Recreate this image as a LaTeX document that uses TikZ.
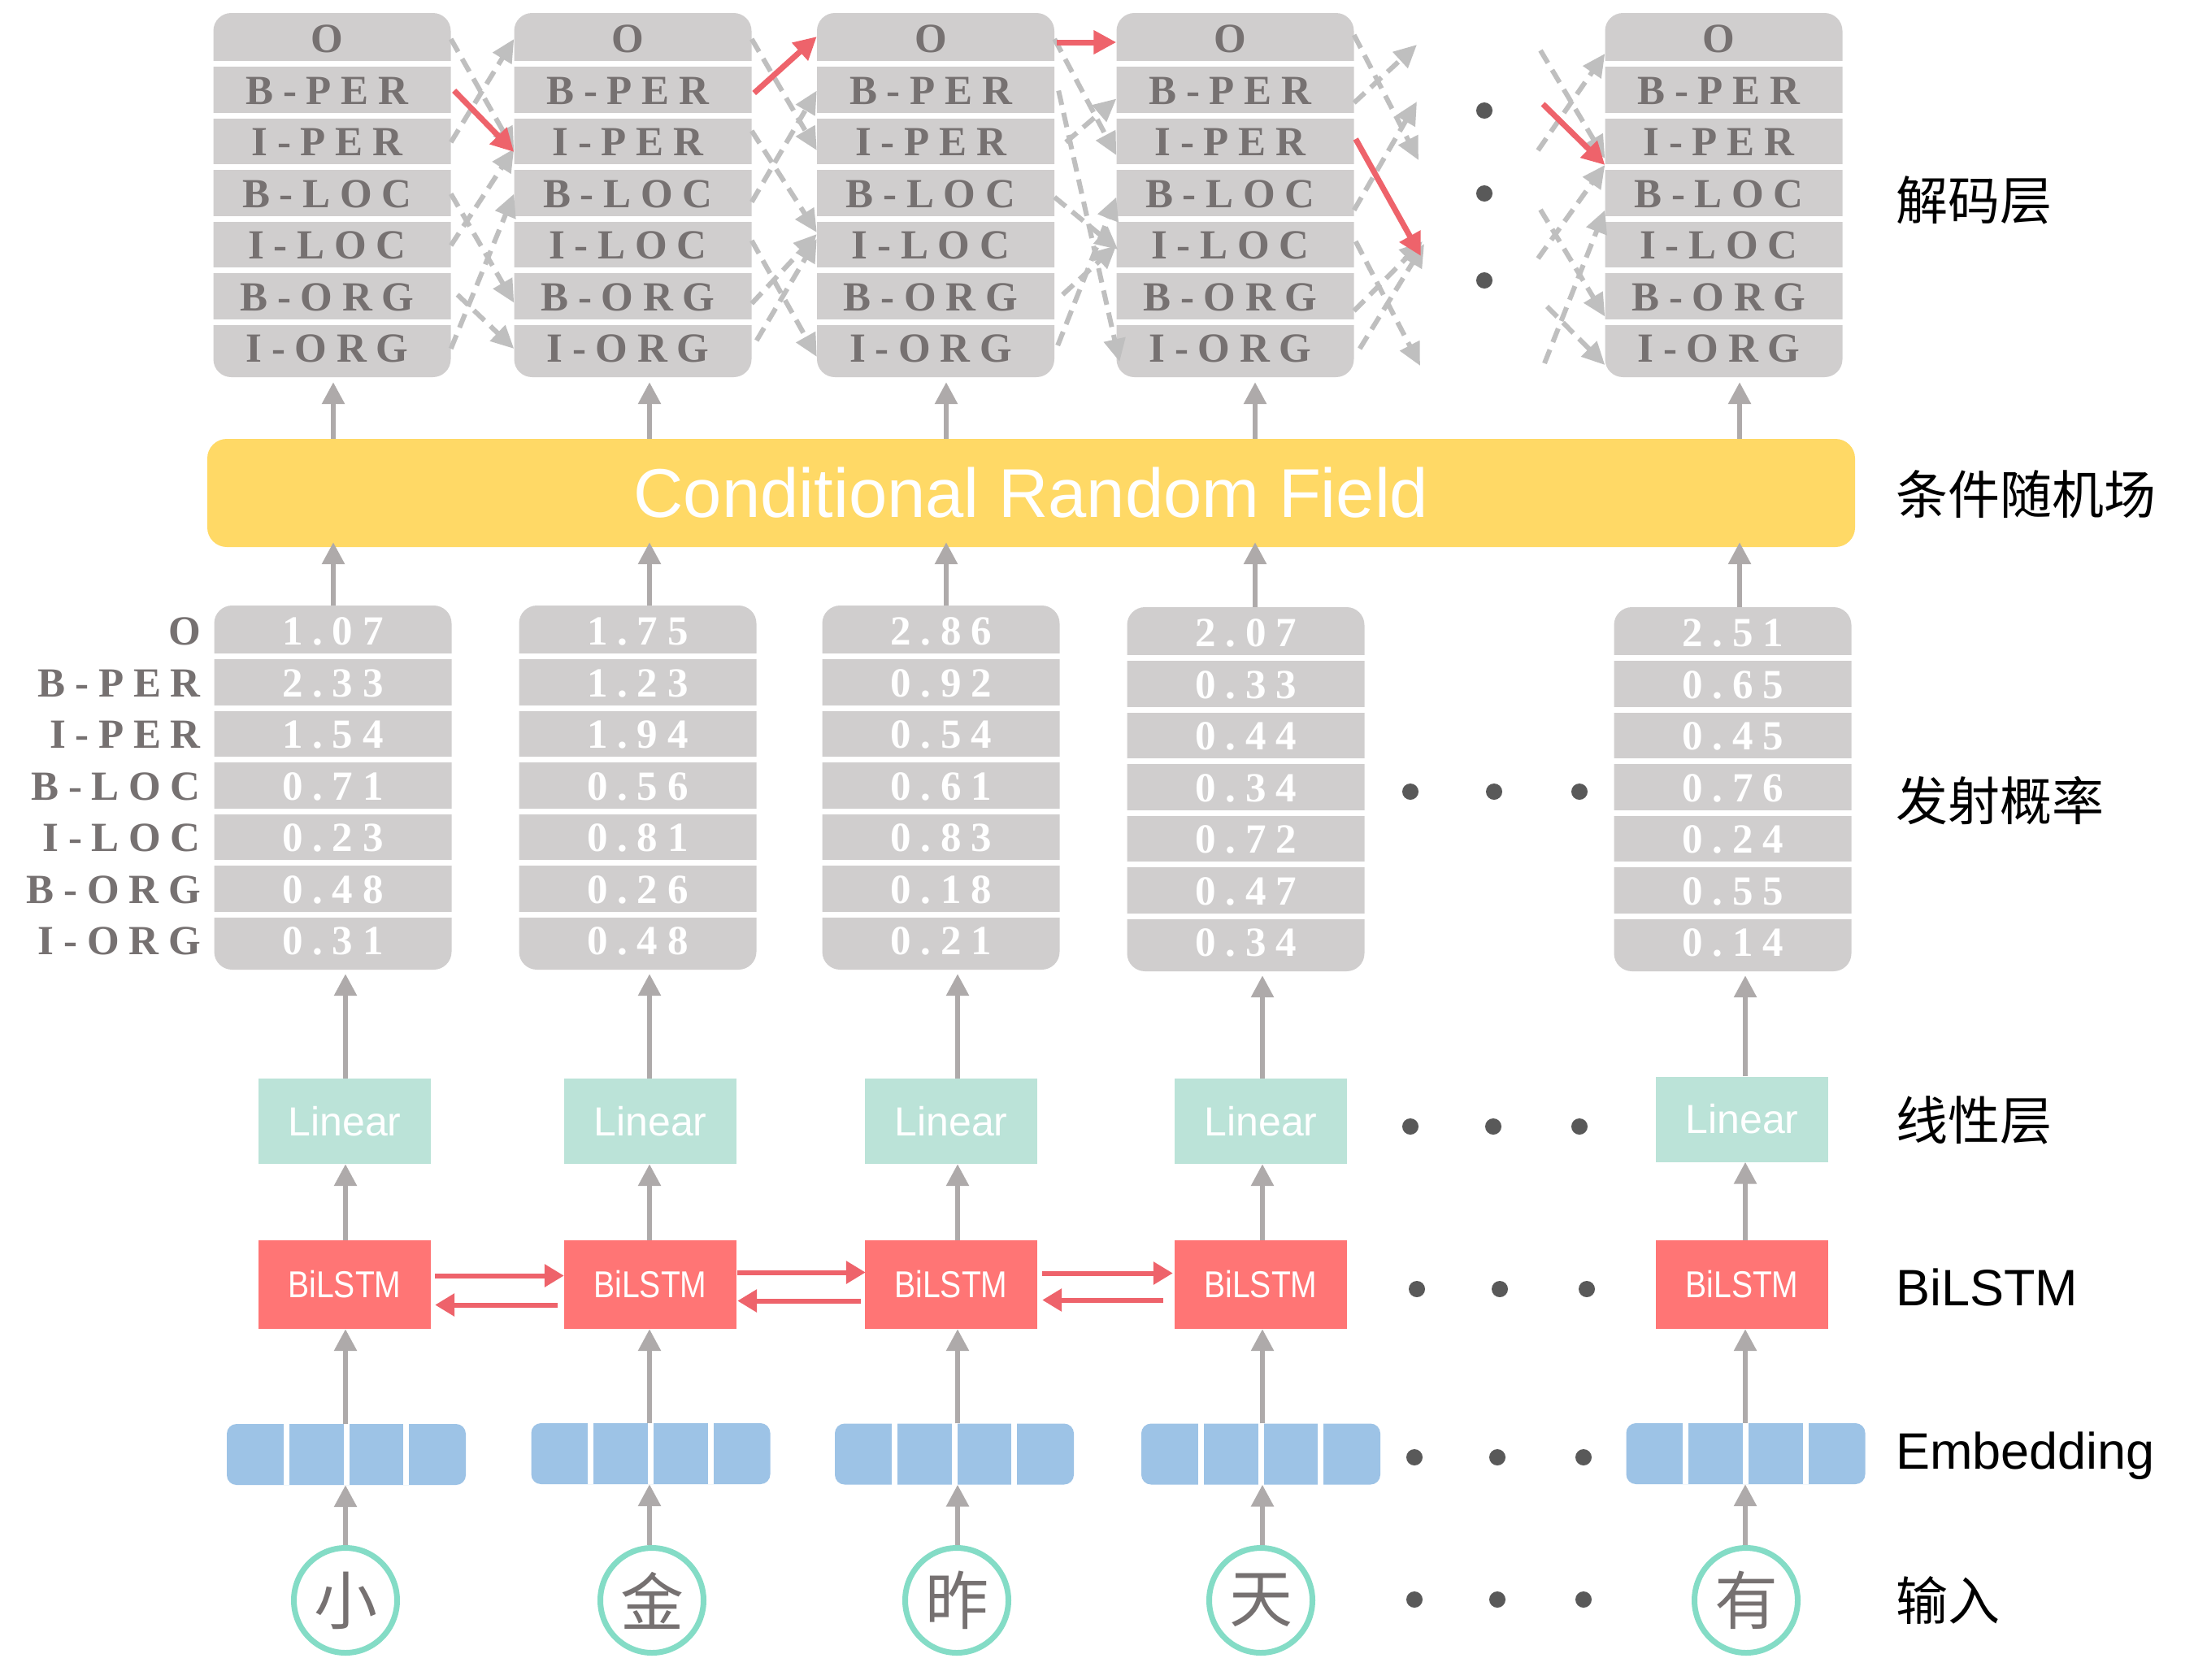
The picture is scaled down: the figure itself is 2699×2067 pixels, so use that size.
\documentclass[tikz,border=0pt]{standalone}
\usepackage{fontspec}
\setmainfont{Liberation Sans}
\newfontfamily\tagfont[LetterSpace=23]{Liberation Serif}
\newfontfamily\cjk{Noto Sans CJK SC}
\newfontfamily\boxfontc[FakeStretch=0.85]{Liberation Sans}
\usetikzlibrary{arrows.meta,shapes.geometric,calc}
\definecolor{boxgray}{HTML}{D0CECE}
\definecolor{tagc}{HTML}{767171}
\definecolor{dashgray}{HTML}{BFBFBF}
\definecolor{arrowgray}{HTML}{AEAAAA}
\definecolor{redarrow}{HTML}{EE636B}
\definecolor{lstmred}{HTML}{FF7575}
\definecolor{lineargreen}{HTML}{BBE3D8}
\definecolor{embblue}{HTML}{9DC3E6}
\definecolor{crfyellow}{HTML}{FFD966}
\definecolor{circteal}{HTML}{84DCC6}
\definecolor{dotc}{HTML}{595959}
\newcommand{\fsz}[1]{\fontsize{#1pt}{#1pt}\selectfont}
\tikzset{
  colbg/.style={fill=boxgray, rounded corners=22pt, minimum width=292pt, minimum height=448pt, inner sep=0pt},
  cell/.style={minimum width=292pt, minimum height=57pt, inner sep=0pt, font=\tagfont\bfseries\fsz{51}},
  tagtext/.style={cell, text=tagc, execute at begin node={\hspace*{-12pt}}},
  valtext/.style={cell, text=white},
  sidelab/.style={cell, text=tagc, minimum width=0pt, anchor=east},
  sepline/.style={white, line width=7pt},
  garrow/.style={draw=arrowgray, line width=6pt, -{Triangle[length=27pt,width=27pt]}},
  darrow/.style={draw=dashgray, line width=6pt, dash pattern=on 18pt off 10pt, -{Triangle[length=28pt,width=26pt]}},
  rarrow/.style={draw=redarrow, line width=7pt, -{Triangle[length=28pt,width=28pt]}},
  lstmarrow/.style={draw=redarrow, line width=6pt, -{Triangle[length=24pt,width=27pt]}},
  linbox/.style={fill=lineargreen, minimum width=212pt, minimum height=105pt, inner sep=0pt, text=white, font=\fsz{50}},
  lstmbox/.style={fill=lstmred, minimum width=212pt, minimum height=109pt, inner sep=0pt, text=white, font=\boxfontc\fsz{46}},
  embbox/.style={fill=embblue, rounded corners=12pt, minimum width=294pt, minimum height=75pt, inner sep=0pt},
  embsep/.style={white, line width=7pt},
  inchar/.style={draw=circteal, line width=7pt, ellipse, minimum width=127pt, minimum height=129pt, inner sep=0pt, text=tagc, font=\cjk\fsz{78}},
  layerlab/.style={anchor=west, inner sep=0pt, text=black},
  dot/.style={fill=dotc}
}
\newcommand{\tagcolumn}[5]{%
  \node[colbg] (#1) at (#2,#3+224) {};
  \foreach \k in {1,...,6}{\draw[sepline] (#2-147,#3-1+63.5*\k) -- (#2+147,#3-1+63.5*\k);}
  \foreach \t [count=\k from 0] in {#5}{\node[#4] (#1r\k) at (#2,#3+32+63.5*\k) {\t};}
}
\begin{document}
\begin{tikzpicture}[x=1pt,y=-1pt]
\useasboundingbox (0,0) rectangle (2699,2067);
\fill[white] (0,0) rectangle (2699,2067);

% ---------- decoding layer ----------
\tagcolumn{d1}{408.5}{16}{tagtext}{O,B-PER,I-PER,B-LOC,I-LOC,B-ORG,I-ORG}
\tagcolumn{d2}{778.5}{16}{tagtext}{O,B-PER,I-PER,B-LOC,I-LOC,B-ORG,I-ORG}
\tagcolumn{d3}{1151}{16}{tagtext}{O,B-PER,I-PER,B-LOC,I-LOC,B-ORG,I-ORG}
\tagcolumn{d4}{1519.5}{16}{tagtext}{O,B-PER,I-PER,B-LOC,I-LOC,B-ORG,I-ORG}
\tagcolumn{d5}{2120.5}{16}{tagtext}{O,B-PER,I-PER,B-LOC,I-LOC,B-ORG,I-ORG}

% gap 1
\draw[darrow] (d1r0.east) -- ($(d2r2.west)+(0,10)$);
\draw[darrow] (d1r2.east) -- (d2r0.west);
\draw[darrow] (d1r3.east) -- ($(d2r5.west)+(0,7)$);
\draw[darrow] (d1r4.east) -- ($(d2r2.west)+(0,8)$);
\draw[darrow] ($(d1r5.east)+(8,-3)$) -- (d2r6.west);
\draw[darrow] (d1r6.east) -- (d2r3.west);
\draw[rarrow] ($(d1r1.east)+(4,0)$) -- ($(d2r2.west)+(0,12)$);
% gap 2
\draw[darrow] (d2r0.east) -- ($(d3r2.west)+(0,10)$);
\draw[darrow] ($(d2r2.east)+(0,-14)$) -- ($(d3r4.west)+(0,-16)$);
\draw[darrow] ($(d2r3.east)+(0,10)$) -- (d3r1.west);
\draw[darrow] ($(d2r4.east)+(0,-6)$) -- ($(d3r6.west)+(0,10)$);
\draw[darrow] ($(d2r5.east)+(0,8)$) -- ($(d3r4.west)+(0,-14)$);
\draw[darrow] ($(d2r6.east)+(6,-10)$) -- ($(d3r4.west)+(0,-8)$);
\draw[rarrow] ($(d2r1.east)+(3,3)$) -- ($(d3r0.west)+(0,-3)$);
% gap 3
\draw[darrow] (d3r0.east) -- ($(d4r2.west)+(0,16)$);
\draw[darrow] ($(d3r1.east)+(5,0)$) -- ($(d4r6.west)+(4,16)$);
\draw[darrow] ($(d3r2.east)+(14,0)$) -- ($(d4r1.west)+(0,10)$);
\draw[darrow] ($(d3r3.east)+(0,4)$) -- ($(d4r4.west)+(2,5)$);
\draw[darrow] ($(d3r5.east)+(10,-3)$) -- (d4r4.west);
\draw[darrow] ($(d3r6.east)+(4,-4)$) -- ($(d4r3.west)+(0,4)$);
\draw[rarrow] ($(d3r0.east)+(3,4)$) -- ($(d4r0.west)+(0,4)$);
% gap 4 (free ends)
\coordinate (q1) at (1745,197);
\coordinate (q2) at (1743,55);
\coordinate (q3) at (1748,315);
\coordinate (q4) at (1743,125);
\coordinate (q5) at (1747,450);
\coordinate (q6) at (1750,297);
\coordinate (q7) at (1752,300);
\draw[darrow] ($(d4r0.east)+(0,-5)$) -- (q1);
\draw[darrow] ($(d4r1.east)+(0,15)$) -- (q2);
\draw[darrow] ($(d4r3.east)+(0,20)$) -- (q4);
\draw[darrow] ($(d4r4.east)+(2,-5)$) -- (q5);
\draw[darrow] ($(d4r5.east)+(0,17)$) -- (q6);
\draw[darrow] ($(d4r6.east)+(7,0)$) -- (q7);
\draw[rarrow] ($(d4r2.east)+(2,-4)$) -- (q3);
% gap 5 (free starts)
\coordinate (p1) at (1895,62);
\coordinate (p2) at (1892,185);
\coordinate (p3) at (1898,128);
\coordinate (p4) at (1895,258);
\coordinate (p5) at (1892,318);
\coordinate (p6) at (1903,377);
\coordinate (p7) at (1900,447);
\draw[darrow] (p1) -- ($(d5r2.west)+(0,20)$);
\draw[darrow] (p2) -- ($(d5r0.west)+(0,18)$);
\draw[darrow] (p4) -- ($(d5r5.west)+(0,24)$);
\draw[darrow] (p5) -- ($(d5r2.west)+(0,28)$);
\draw[darrow] (p6) -- ($(d5r6.west)+(0,20)$);
\draw[darrow] (p7) -- ($(d5r3.west)+(0,20)$);
\draw[rarrow] (p3) -- ($(d5r2.west)+(0,28)$);
% dots
\fill[dot] (1826,136) circle (10);
\fill[dot] (1826,238) circle (10);
\fill[dot] (1826,345) circle (10);

% ---------- CRF ----------
\node[fill=crfyellow, rounded corners=24pt, minimum width=2027pt, minimum height=133pt, inner sep=0pt, text=white, font=\fsz{85}] (crf) at (1268.5,606.5) {Conditional Random Field};

% ---------- emission ----------
\tagcolumn{e1}{409.5}{745}{valtext}{1.07,2.33,1.54,0.71,0.23,0.48,0.31}
\tagcolumn{e2}{784.5}{745}{valtext}{1.75,1.23,1.94,0.56,0.81,0.26,0.48}
\tagcolumn{e3}{1157.5}{745}{valtext}{2.86,0.92,0.54,0.61,0.83,0.18,0.21}
\tagcolumn{e4}{1532.5}{747}{valtext}{2.07,0.33,0.44,0.34,0.72,0.47,0.34}
\tagcolumn{e5}{2131.5}{747}{valtext}{2.51,0.65,0.45,0.76,0.24,0.55,0.14}
\foreach \t [count=\k from 0] in {O,B-PER,I-PER,B-LOC,I-LOC,B-ORG,I-ORG}{
  \node[sidelab] (el\k) at (247,777+63.5*\k) {\t};}
\foreach \x in {1735,1838,1943}{\fill[dot] (\x,974) circle (10);}

% ---------- lower layers ----------
\node[linbox] (lin1) at (424,1379.5) {Linear};
\node[linbox] (lin2) at (800,1379.5) {Linear};
\node[linbox] (lin3) at (1170,1379.5) {Linear};
\node[linbox] (lin4) at (1551,1379.5) {Linear};
\node[linbox] (lin5) at (2143,1377) {Linear};
\node[lstmbox] (bl1) at (424,1580.5) {BiLSTM};
\node[lstmbox] (bl2) at (800,1580.5) {BiLSTM};
\node[lstmbox] (bl3) at (1170,1580.5) {BiLSTM};
\node[lstmbox] (bl4) at (1551,1580.5) {BiLSTM};
\node[lstmbox] (bl5) at (2143,1580.5) {BiLSTM};
\node[embbox] (m1) at (426,1789.5) {};
\node[embbox] (m2) at (800.5,1788.5) {};
\node[embbox] (m3) at (1174,1789) {};
\node[embbox] (m4) at (1551,1789) {};
\node[embbox] (m5) at (2147.5,1788.5) {};
\foreach \i in {1,...,5}{
  \foreach \f in {0.25,0.5,0.75}{
    \draw[embsep] ($(m\i.north west)!\f!(m\i.north east)$) -- ($(m\i.south west)!\f!(m\i.south east)$);}}
\node[inchar] (c1) at (425,1969) {小};
\node[inchar] (c2) at (802,1969) {金};
\node[inchar] (c3) at (1177,1969) {昨};
\node[inchar] (c4) at (1551,1969) {天};
\node[inchar] (c5) at (2148,1969) {有};
\foreach \x in {1735,1837,1943}{\fill[dot] (\x,1386) circle (10);}
\foreach \x in {1743,1845,1952}{\fill[dot] (\x,1586) circle (10);}
\foreach \x in {1740,1842,1948}{\fill[dot] (\x,1793) circle (10);}
\foreach \x in {1740,1842,1948}{\fill[dot] (\x,1968) circle (10);}

% BiLSTM recurrent arrows
\draw[lstmarrow] ($(bl1.east)+(5,-11)$) -- ($(bl2.west)+(0,-11)$);
\draw[lstmarrow] ($(bl2.west)+(-8,25)$) -- ($(bl1.east)+(5,25)$);
\draw[lstmarrow] ($(bl2.east)+(1,-15)$) -- ($(bl3.west)+(1,-15)$);
\draw[lstmarrow] ($(bl3.west)+(-5,20)$) -- ($(bl2.east)+(1,20)$);
\draw[lstmarrow] ($(bl3.east)+(6,-14)$) -- ($(bl4.west)+(-2,-14)$);
\draw[lstmarrow] ($(bl4.west)+(-14,19)$) -- ($(bl3.east)+(6,19)$);

% vertical arrows
\coordinate (u1) at (410,0);
\coordinate (u2) at (799,0);
\coordinate (u3) at (1164,0);
\coordinate (u4) at (1544,0);
\coordinate (u5) at (2140,0);
\coordinate (w1) at (425,0);
\coordinate (w2) at (799,0);
\coordinate (w3) at (1178,0);
\coordinate (w4) at (1553,0);
\coordinate (w5) at (2147,0);
\foreach \i in {1,...,5}{
  \draw[garrow, shorten >=6pt] (u\i |- crf.north) -- (u\i |- d\i.south);
  \draw[garrow, shorten >=-6pt] (u\i |- e\i.north) -- (u\i |- crf.south);
  \draw[garrow, shorten >=5pt] (w\i |- lin\i.north) -- (w\i |- e\i.south);
  \draw[garrow] (w\i |- bl\i.north) -- (w\i |- lin\i.south);
  \draw[garrow] (w\i |- m\i.north) -- (w\i |- bl\i.south);
  \draw[garrow] (w\i |- c\i.north) -- (w\i |- m\i.south);
}

% ---------- layer labels ----------
\node[layerlab, font=\cjk\fsz{64}] (lab1) at (2332,246) {解码层};
\node[layerlab, font=\cjk\fsz{64}] (lab2) at (2332,608) {条件随机场};
\node[layerlab, font=\cjk\fsz{64}] (lab3) at (2332,985) {发射概率};
\node[layerlab, font=\cjk\fsz{64}] (lab4) at (2332,1378) {线性层};
\node[layerlab, anchor=base west, font=\fsz{63}] (lab5) at (2332,1606) {BiLSTM};
\node[layerlab, anchor=base west, font=\fsz{63}] (lab6) at (2332,1807) {Embedding};
\node[layerlab, font=\cjk\fsz{64}] (lab7) at (2332,1969) {输入};
\end{tikzpicture}
\end{document}
